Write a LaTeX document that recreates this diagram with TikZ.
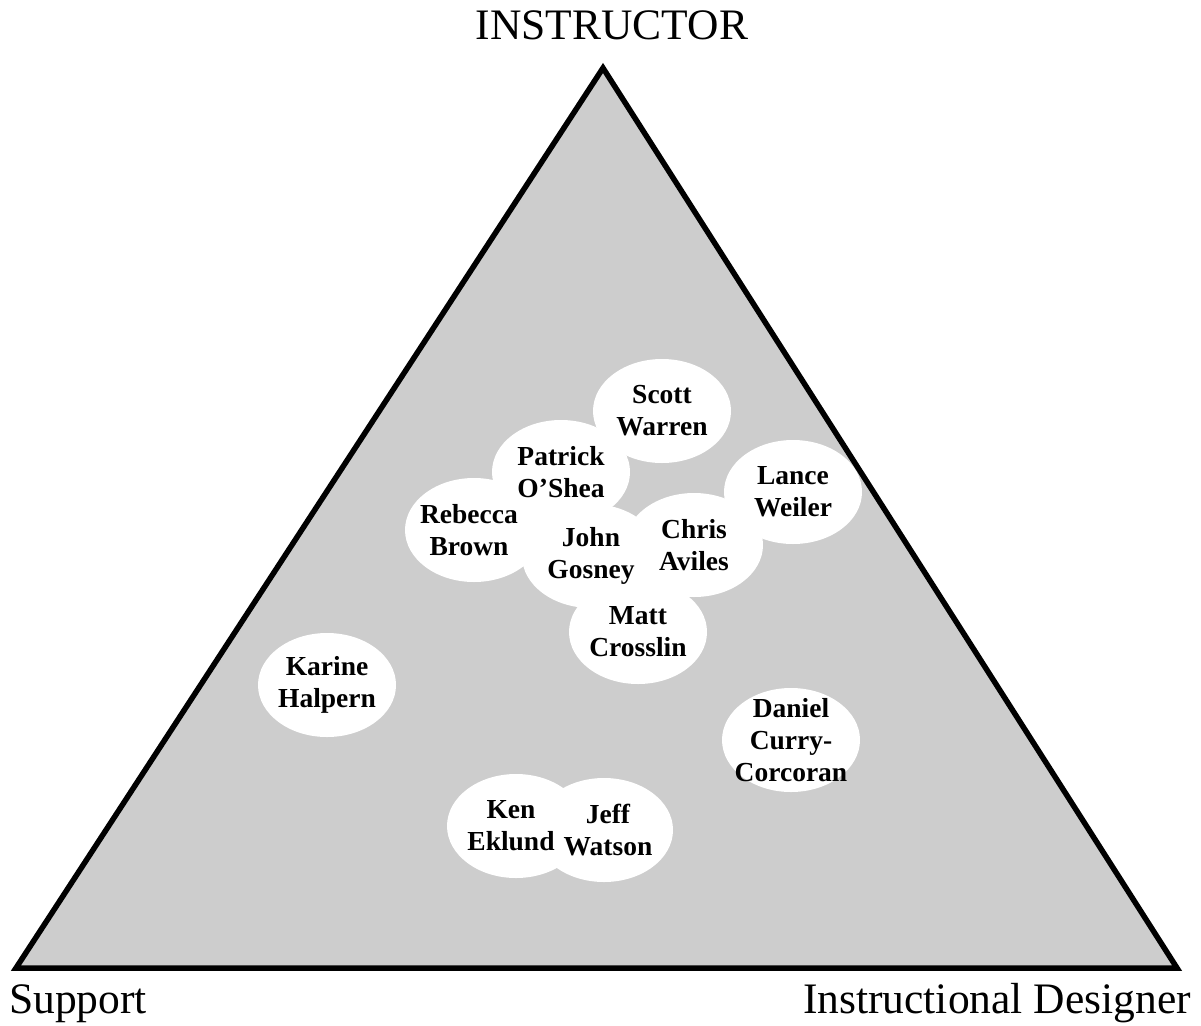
\documentclass[tikz,border=0pt]{standalone}
\usepackage{fontspec}
\setmainfont{Liberation Serif}
\usetikzlibrary{shapes.geometric}
\definecolor{panelgray}{RGB}{205,205,205}
\begin{document}
\begin{tikzpicture}[x=1pt,y=-1pt,
  bubble/.style={ellipse, fill=white, inner sep=0pt,
    minimum width=138pt, minimum height=104pt},
  personlabel/.style={align=center, inner sep=0pt,
    font=\fontsize{27.5}{32}\selectfont\bfseries},
  corner/.style={font=\fontsize{43.5}{48}\selectfont, inner sep=0pt}]
  \useasboundingbox (0,0) rectangle (1201,1025);
  \fill[white] (0,0) rectangle (1201,1025);

  % the triangle
  \coordinate (top) at (603,68);
  \coordinate (bl) at (16,968);
  \coordinate (br) at (1177,968);
  \draw[fill=panelgray, line width=5.5pt, line join=miter] (top) -- (br) -- (bl) -- cycle;

  % corner labels
  \node[corner, anchor=base] (instr) at (612,40) {INSTRUCTOR};
  \node[corner, anchor=base west] (supp) at (9,1013) {Support};
  \node[corner, anchor=base east] (desig) at (1191,1013) {Instructional Designer};

  % white bubbles, all drawn before any label so none hides a label
  \node[bubble] (scott)   at (662,411) {};
  \node[bubble] (patrick) at (561,472) {};
  \node[bubble] (rebecca) at (474,530) {};
  \node[bubble] (lance)   at (793,492) {};
  \node[bubble] (chris)   at (694,545) {};
  \node[bubble] (matt)    at (638,632) {};
  \node[bubble] (john)    at (591,556) {};
  \node[bubble] (karine)  at (327,685) {};
  \node[bubble] (daniel)  at (791,740) {};
  \node[bubble] (jeff)    at (604,830) {};
  \node[bubble] (ken)     at (516,826) {};

  % names
  \node[personlabel] (scott-t)   at (scott)   {Scott\\Warren};
  \node[personlabel] (patrick-t) at (patrick) {Patrick\\O’Shea};
  \node[personlabel] (rebecca-t) at ([xshift=-5pt]rebecca) {Rebecca\\Brown};
  \node[personlabel] (lance-t)   at (lance)   {Lance\\Weiler};
  \node[personlabel] (chris-t)   at (chris)   {Chris\\Aviles};
  \node[personlabel] (matt-t)    at (matt)    {Matt\\Crosslin};
  \node[personlabel] (john-t)    at (john)    {John\\Gosney};
  \node[personlabel] (karine-t)  at (karine)  {Karine\\Halpern};
  \node[personlabel] (daniel-t)  at (daniel)  {Daniel\\Curry-\\Corcoran};
  \node[personlabel] (jeff-t)    at ([xshift=4pt]jeff) {Jeff\\Watson};
  \node[personlabel] (ken-t)     at ([xshift=-5pt]ken) {Ken\\Eklund};
\end{tikzpicture}
\end{document}
